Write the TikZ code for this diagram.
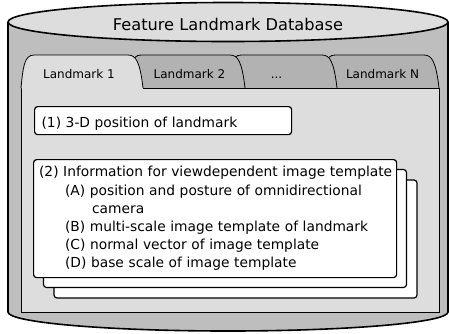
\documentclass[tikz,border=0pt]{standalone}
\usepackage{fontspec}
\setmainfont{DejaVu Sans}
\usetikzlibrary{positioning,calc}
\definecolor{cylgray}{RGB}{190,190,190}
\definecolor{tabgray}{RGB}{178,178,178}
\definecolor{panelgray}{RGB}{221,221,221}
% tab outline: bottom left, bottom right
\newcommand{\tabpath}[2]{(#1,88) .. controls (#1+2,68) and (#1+3,55) .. (#1+13,55)
  -- (#2-15,55) .. controls (#2-7,55) and (#2-3,62) .. (#2,88)}

\begin{document}
\begin{tikzpicture}[
  x=1pt, y=-1pt,
  every node/.style={font=\fontsize{13.8}{18.2}\selectfont},
  cyl/.style={draw, line width=1.6pt, fill=cylgray},
  tabbox/.style={draw, line width=0.8pt, fill=tabgray},
  panel/.style={draw, line width=0.8pt, fill=panelgray},
  card/.style={draw, line width=1.2pt, fill=white, rounded corners=3pt},
  tablabel/.style={font=\fontsize{12}{14}\selectfont, anchor=base},
]
\useasboundingbox (0,0) rectangle (449,333);

% database cylinder
\draw[cyl] (8,22) -- (8,312) arc[start angle=180, end angle=0, x radius=220, y radius=19] -- (448,22);
\draw[cyl, fill=panelgray] (228,22) ellipse[x radius=220, y radius=19.5];
\node[font=\fontsize{16.2}{18}\selectfont, anchor=base] (title) at (228,30) {Feature Landmark Database};

% tabs, back to front
\draw[tabbox] \tabpath{322}{439};
\draw[tabbox] \tabpath{228}{337};
\draw[tabbox] \tabpath{128}{245};
\draw[panel] (143,88) -- (439,88) -- (439,312) -- (21,312) -- (21,88);
\draw[panel] \tabpath{21}{143};

\node[tablabel] (lm1) at (79,78) {Landmark 1};
\node[tablabel] (lm2) at (189.5,78) {Landmark 2};
\node[tablabel] (lmdots) at (276.5,78) {...};
\node[tablabel] (lmN) at (382.5,78) {Landmark N};

% landmark contents
\node[card, anchor=north west, inner xsep=7pt, inner ysep=0pt, text height=21pt, text depth=7pt,
      text width=243pt, align=left] (pos) at (34,106) {(1) 3-D position of landmark};

\foreach \d in {21,10.5}
  \draw[card] (33+\d,159+\d) rectangle (396+\d,277+\d);
\node[card, anchor=north west, align=left, text width=352pt, inner xsep=5.5pt,
      minimum height=118pt] (info) at (33,159) {\mbox{(2) Information for viewdependent image template}\\
  \hspace*{26pt}(A) position and posture of omnidirectional\\
  \hspace*{53pt}camera\\
  \hspace*{26pt}(B) multi-scale image template of landmark\\
  \hspace*{26pt}(C) normal vector of image template\\
  \hspace*{26pt}(D) base scale of image template};
\end{tikzpicture}
\end{document}
